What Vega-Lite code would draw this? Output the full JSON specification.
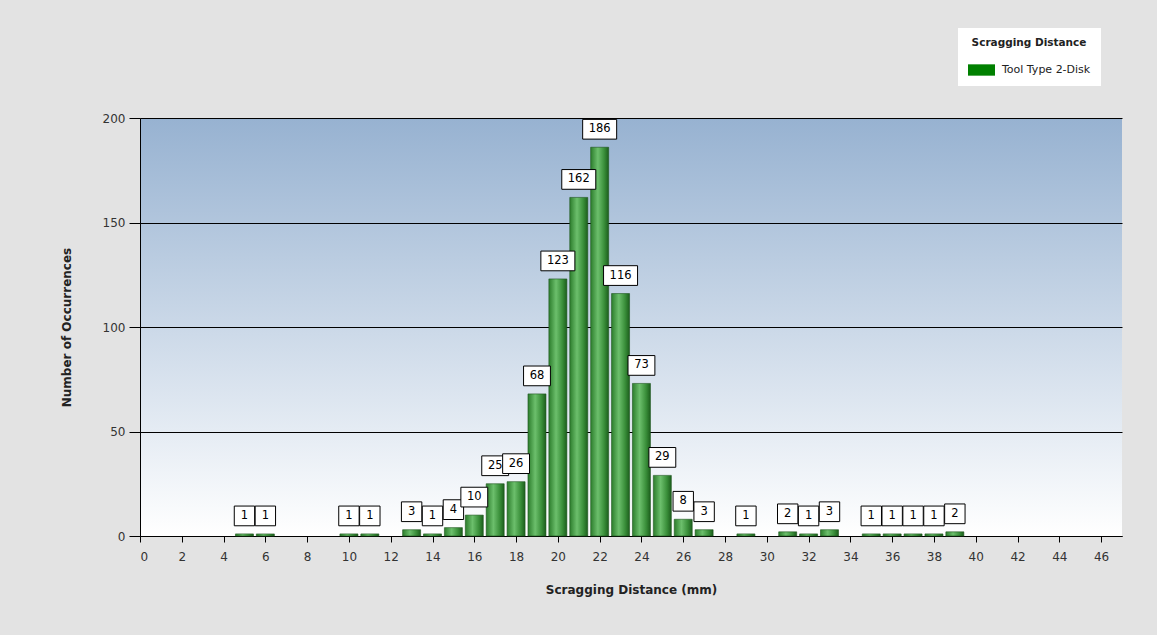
{
  "$schema": "https://vega.github.io/schema/vega-lite/v6.json",
  "autosize": "none",
  "width": 982,
  "height": 418,
  "padding": {"left": 140, "top": 118, "right": 35, "bottom": 99},
  "background": "#e3e3e3",
  "data": {"values": [
    {"d": 5, "n": 1}, {"d": 6, "n": 1}, {"d": 10, "n": 1}, {"d": 11, "n": 1},
    {"d": 13, "n": 3}, {"d": 14, "n": 1}, {"d": 15, "n": 4}, {"d": 16, "n": 10},
    {"d": 17, "n": 25}, {"d": 18, "n": 26}, {"d": 19, "n": 68}, {"d": 20, "n": 123},
    {"d": 21, "n": 162}, {"d": 22, "n": 186}, {"d": 23, "n": 116}, {"d": 24, "n": 73},
    {"d": 25, "n": 29}, {"d": 26, "n": 8}, {"d": 27, "n": 3}, {"d": 29, "n": 1},
    {"d": 31, "n": 2}, {"d": 32, "n": 1}, {"d": 33, "n": 3}, {"d": 35, "n": 1},
    {"d": 36, "n": 1}, {"d": 37, "n": 1}, {"d": 38, "n": 1}, {"d": 39, "n": 2}
  ]},
  "encoding": {
    "x": {
      "field": "d", "type": "quantitative",
      "scale": {"domain": [0, 47], "nice": false, "zero": true, "padding": 0},
      "axis": {
        "values": [0,2,4,6,8,10,12,14,16,18,20,22,24,26,28,30,32,34,36,38,40,42,44,46],
        "title": "Scragging Distance (mm)",
        "grid": false,
        "domainColor": "black", "tickColor": "black", "tickSize": 6,
        "labelFontSize": 12, "labelColor": "#333333", "labelPadding": 9,
        "titleFontSize": 12, "titleFontWeight": "bold", "titleColor": "#222222", "titlePadding": 22
      }
    },
    "y": {
      "field": "n", "type": "quantitative",
      "scale": {"domain": [0, 200], "nice": false},
      "axis": {
        "values": [0, 50, 100, 150, 200],
        "title": "Number of Occurrences",
        "grid": true, "gridColor": "black", "gridOpacity": 1, "gridWidth": 1,
        "domainColor": "black", "tickColor": "black", "tickSize": 11,
        "labelFontSize": 12, "labelColor": "#333333", "labelPadding": 4,
        "titleFontSize": 12, "titleFontWeight": "bold", "titleColor": "#222222", "titlePadding": 29
      }
    }
  },
  "layer": [
    {
      "mark": {
        "type": "bar", "size": 18, "stroke": "#1d541d", "strokeWidth": 0.6,
        "fill": {
          "gradient": "linear", "x1": 0, "y1": 0, "x2": 1, "y2": 0,
          "stops": [
            {"offset": 0, "color": "#2c7d2c"},
            {"offset": 0.4, "color": "#6cbf6c"},
            {"offset": 0.75, "color": "#3a8f3a"},
            {"offset": 1, "color": "#1c5e1c"}
          ]
        }
      }
    },
    {
      "transform": [{"filter": "datum.n < 10"}],
      "mark": {"type": "point", "filled": true, "fill": "white", "stroke": "black", "strokeWidth": 1, "opacity": 1, "size": 1156, "yOffset": -18,
        "shape": "M-0.6,-0.58L0.6,-0.58L0.6,0.58L-0.6,0.58Z"}
    },
    {
      "transform": [{"filter": "datum.n >= 10 && datum.n < 100"}],
      "mark": {"type": "point", "filled": true, "fill": "white", "stroke": "black", "strokeWidth": 1, "opacity": 1, "size": 1156, "yOffset": -18,
        "shape": "M-0.79,-0.58L0.79,-0.58L0.79,0.58L-0.79,0.58Z"}
    },
    {
      "transform": [{"filter": "datum.n >= 100"}],
      "mark": {"type": "point", "filled": true, "fill": "white", "stroke": "black", "strokeWidth": 1, "opacity": 1, "size": 1156, "yOffset": -18,
        "shape": "M-1,-0.58L1,-0.58L1,0.58L-1,0.58Z"}
    },
    {
      "mark": {"type": "text", "yOffset": -18, "baseline": "middle", "align": "center", "font": "DejaVu Sans", "fontSize": 11.5, "color": "black"},
      "encoding": {"text": {"field": "n", "type": "quantitative"}}
    },
    {
      "transform": [{"filter": "datum.d == 22"}],
      "mark": {"type": "point", "filled": true, "opacity": 0},
      "encoding": {
        "color": {
          "datum": "Tool Type 2-Disk",
          "scale": {"range": ["#008000"]},
          "legend": {
            "title": "Scragging Distance",
            "orient": "none", "legendX": 818, "legendY": -90,
            "fillColor": "white", "padding": 10,
            "titleFontSize": 10.5, "titleFontWeight": "bold", "titleColor": "#222222", "titleAnchor": "middle", "titlePadding": 8,
            "labelFontSize": 11, "labelColor": "#222222", "labelOffset": 7,
            "symbolType": "M-1,-0.42L1,-0.42L1,0.42L-1,0.42Z", "symbolSize": 729,
            "symbolOpacity": 1, "symbolStrokeWidth": 0, "symbolFillColor": "#008000"
          }
        }
      }
    }
  ],
  "config": {
    "font": "DejaVu Sans",
    "view": {
      "stroke": null,
      "fill": {
        "gradient": "linear", "x1": 0, "y1": 0, "x2": 0, "y2": 1,
        "stops": [
          {"offset": 0, "color": "#97b2d1"},
          {"offset": 1, "color": "#ffffff"}
        ]
      }
    }
  }
}
